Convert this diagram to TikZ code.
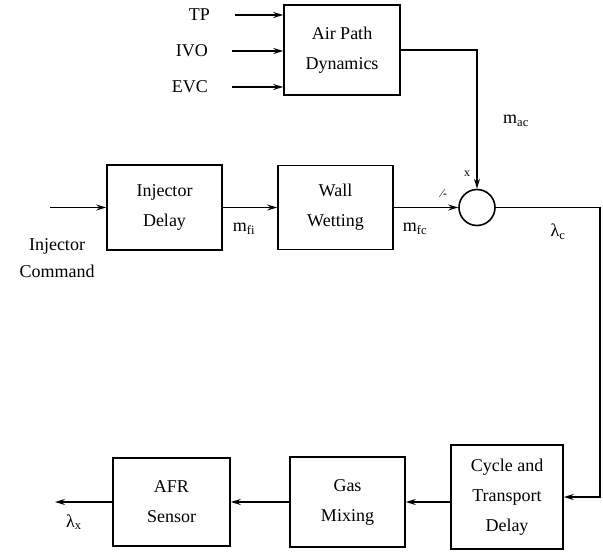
\documentclass[tikz,border=0pt]{standalone}
\usepackage{fontspec}
\setmainfont{Liberation Serif}
\usetikzlibrary{arrows.meta}

\tikzset{
  block/.style={draw,align=center,minimum width=115pt,minimum height=88pt,
    font=\fontsize{18}{30}\selectfont},
  lbl/.style={font=\fontsize{18}{20}\selectfont},
  tiny lbl/.style={font=\fontsize{12}{14}\selectfont},
}

\begin{document}
\begin{tikzpicture}[x=1pt,y=-1pt,line width=1.6pt,
  >={Stealth[length=10pt,width=6pt,inset=3.5pt]}]
\useasboundingbox (0,0) rectangle (603,557);
% Blocks
\node[block,minimum width=116pt,minimum height=90pt] (air) at (342,50) {Air Path\\Dynamics};
\node[block,minimum height=85pt] (inj) at (164.5,207.5) {Injector\\Delay};
\node[block,minimum height=84pt] (wall) at (335.5,207.5) {Wall\\Wetting};
\node[draw,circle,minimum size=36pt,inner sep=0pt] (mix) at (477,207.5) {};
\node[block,minimum width=112pt,minimum height=104pt] (cycle) at (507,497) {Cycle and\\Transport\\Delay};
\node[block,minimum height=90pt] (gas) at (347.5,502) {Gas\\Mixing};
\node[block,minimum width=117pt] (afr) at (171.5,502) {AFR\\Sensor};
% Air path inputs
\node[lbl,anchor=east] (tp) at (214,15) {TP};
\node[lbl,anchor=east] (ivo) at (212,51) {IVO};
\node[lbl,anchor=east] (evc) at (212,87) {EVC};
\draw[->] ([xshift=21pt]tp.east) -- (tp.east -| air.west);
\draw[->] ([xshift=20pt]ivo.east) -- (ivo.east -| air.west);
\draw[->] ([xshift=20pt]evc.east) -- (evc.east -| air.west);
% Fuel path
\coordinate (cmd) at (50,207.5);
\node[lbl,align=center,font=\fontsize{18}{27}\selectfont] (cmdlbl) at (57,258) {Injector\\Command};
\draw[->] (cmd) -- (inj.west);
\draw[->] (inj.east) -- (wall.west);
\draw[->] (wall.east) -- (mix.west);
\draw[->] (air.east) -| (mix.north);
% Loop to exhaust
\coordinate (corner) at (600,207.5);
\coordinate (out) at (55,502);
\draw[->] (mix.east) -- (corner) |- (cycle.east);
\draw[->] (cycle.west |- gas.east) -- (gas.east);
\draw[->] (gas.west) -- (afr.east);
\draw[->] (afr.west) -- (out);
% Signal labels
\node[lbl] (mac) at (516,121) {m\textsubscript{ac}};
\node[lbl] (mfi) at (244,229) {m\textsubscript{fi}};
\node[lbl] (mfc) at (415,229) {m\textsubscript{fc}};
\node[lbl] (lamc) at (558,232) {λ\textsubscript{c}};
\node[lbl] (lamx) at (74,522) {λ\textsubscript{x}};
\node[tiny lbl] (times) at (467,174) {x};
\node[tiny lbl] (divide) at (444,194) {⁄-};
\end{tikzpicture}
\end{document}
